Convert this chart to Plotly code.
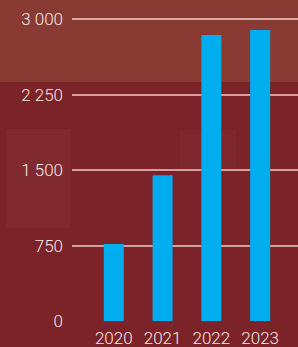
import plotly.graph_objects as go

years = ["2020", "2021", "2022", "2023"]
values = [765, 1450, 2845, 2895]
tick_vals = [0, 750, 1500, 2250, 3000]
tick_text = ["0", "750", "1 500", "2 250", "3 000"]

W, H = 298, 347
L, R, T, B = 72, 0, 0, 26
ph = H - T - B
pw = W - L - R

def py(px):
    return 1 - (px - T) / ph

def px_(x):
    return (x - L) / pw

fig = go.Figure(go.Bar(
    x=years, y=values, marker_color="#00AEEF", width=0.41,
    marker_line_width=0, hoverinfo="skip"))

shapes = [
    dict(type="rect", xref="paper", yref="paper", x0=px_(0), x1=px_(W),
         y0=py(82), y1=py(0), fillcolor="#893a33", line_width=0, layer="below"),
    dict(type="rect", xref="paper", yref="paper", x0=px_(6), x1=px_(70),
         y0=py(228), y1=py(129), fillcolor="rgba(255,210,200,0.045)", line_width=0, layer="below"),
    dict(type="rect", xref="paper", yref="paper", x0=px_(180), x1=px_(236),
         y0=py(168), y1=py(130), fillcolor="rgba(255,210,200,0.025)", line_width=0, layer="below"),
]

tf = dict(family="Roboto, Liberation Sans, sans-serif", size=17, color="#f6e9e7", weight=300)

fig.update_layout(
    width=W, height=H,
    margin=dict(l=L, r=R, t=T, b=B, pad=0, autoexpand=False),
    paper_bgcolor="#7b2328",
    plot_bgcolor="rgba(0,0,0,0)",
    showlegend=False,
    shapes=shapes,
    font=tf,
    xaxis=dict(range=[-0.857, 3.776], showgrid=False, zeroline=False, showline=False,
               ticks="", tickfont=tf, ticklabelstandoff=5, fixedrange=True, automargin=False),
    yaxis=dict(range=[0, ph * 3000 / 301.6], tickvals=tick_vals, ticktext=tick_text,
               showgrid=True, gridcolor="rgba(255,225,220,0.66)", gridwidth=1.5,
               zeroline=False, showline=False, ticks="", ticklabelstandoff=8,
               tickfont=tf, fixedrange=True, automargin=False),
)

fig.write_html(
    "out.html",
    config={"displayModeBar": False},
    post_script="document.body.style.margin='0';document.body.style.background='#7b2328';",
)
